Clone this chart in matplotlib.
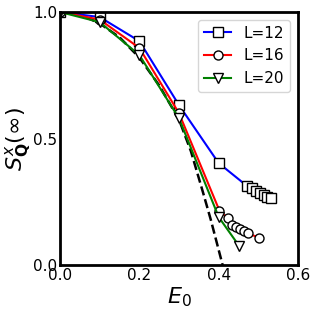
import numpy as np
import matplotlib.pyplot as plt

# L=12
e12 = [0.0, 0.1, 0.2, 0.3, 0.4, 0.472, 0.483, 0.494, 0.504, 0.514, 0.523, 0.533]
s12 = [1.0, 0.98, 0.885, 0.632, 0.403, 0.312, 0.303, 0.294, 0.286, 0.278, 0.27, 0.266]
# L=16
e16 = [0.0, 0.1, 0.2, 0.3, 0.402, 0.423, 0.433, 0.444, 0.454, 0.464, 0.473, 0.502]
s16 = [1.0, 0.97, 0.858, 0.6, 0.215, 0.185, 0.158, 0.151, 0.141, 0.134, 0.125, 0.109]
# L=20
e20 = [0.0, 0.1, 0.2, 0.3, 0.4, 0.452]
s20 = [1.0, 0.96, 0.83, 0.58, 0.19, 0.075]
# dashed curve
e_th = [0.0, 0.05, 0.1, 0.15, 0.2, 0.25, 0.3, 0.33, 0.36, 0.38, 0.395, 0.41]
s_th = [1.0, 0.99, 0.955, 0.9, 0.82, 0.71, 0.575, 0.45, 0.29, 0.18, 0.09, 0.0]

fig = plt.figure(figsize=(3.16, 3.16), dpi=100)
ax = fig.add_axes([0.19, 0.161, 0.753, 0.801])

mk = dict(markerfacecolor='white', markeredgecolor='black', markersize=6.5, markeredgewidth=1.0)
ax.plot(e12, s12, '-s', color='blue', lw=1.5, label='L=12', **mk)
ax.plot(e16, s16, '-o', color='red', lw=1.5, label='L=16', **mk)
ax.plot(e20, s20, '-v', color='green', lw=1.5, label='L=20', **mk)
ax.plot(e_th, s_th, '--', color='black', lw=1.8, zorder=1.5)

ax.set_xlim(0, 0.6)
ax.set_ylim(0, 1.0)
ax.set_xticks([0.0, 0.2, 0.4, 0.6])
ax.set_yticks([0.0, 0.5, 1.0])
ax.tick_params(length=0, labelsize=11, pad=2)
for sp in ax.spines.values():
    sp.set_linewidth(2)

ax.set_xlabel(r'$E_0$', fontsize=16, labelpad=2)
ax.set_ylabel(r'$S^x_{\mathbf{Q}}(\infty)$', fontsize=16, labelpad=0)
ax.legend(loc='upper right', fontsize=11, handlelength=1.8, borderaxespad=0.5)

plt.savefig('out.png', dpi=100)
